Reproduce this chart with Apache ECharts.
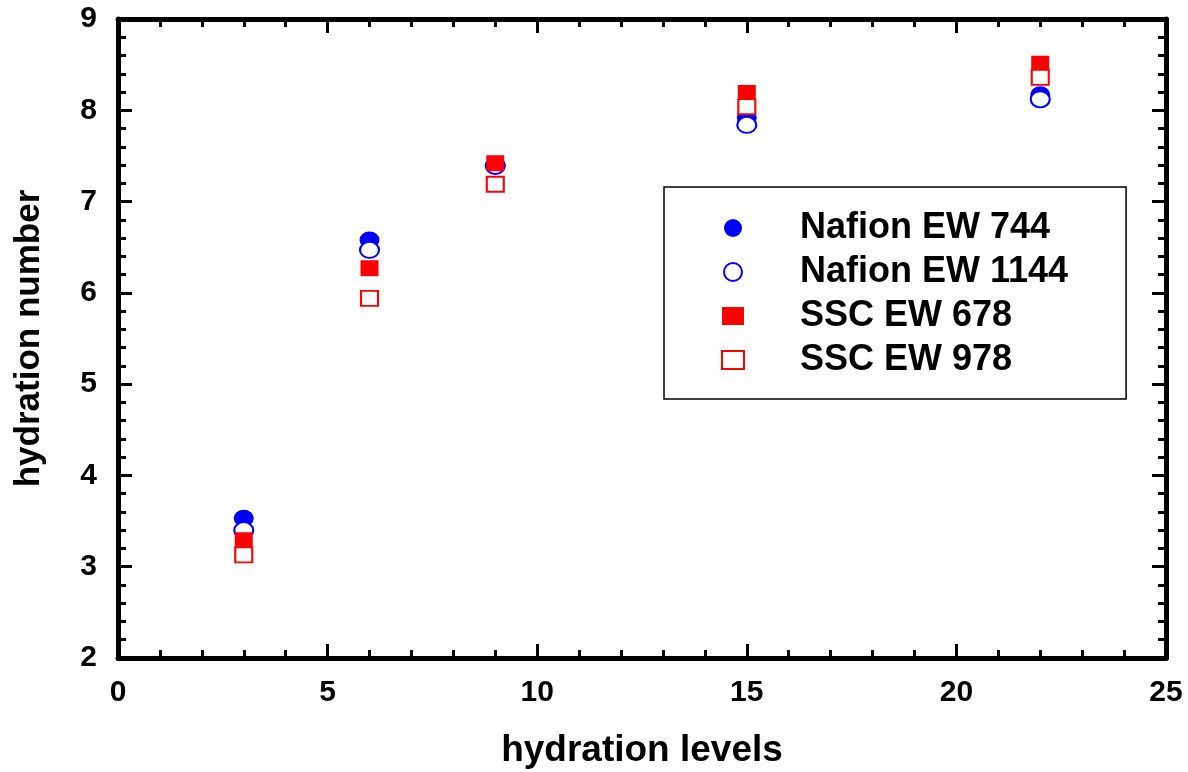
<!DOCTYPE html>
<html>
<head>
<meta charset="utf-8">
<script src="https://cdn.jsdelivr.net/npm/echarts@6/dist/echarts.min.js"></script>
<style>
html,body{margin:0;padding:0;background:#fff;}
#chart{width:1188px;height:772px;}
</style>
</head>
<body>
<div id="chart"></div>
<script>
// ---- data ----
const hydrationLevels = [3, 6, 9, 15, 22];
const nafion744  = [3.53, 6.58, 7.40, 7.92, 8.17];
const nafion1144 = [3.40, 6.47, 7.39, 7.84, 8.12];
const ssc678     = [3.29, 6.27, 7.42, 8.19, 8.51];
const ssc978     = [3.13, 5.94, 7.19, 8.04, 8.36];
const seriesNames = ['Nafion EW 744', 'Nafion EW 1144', 'SSC EW 678', 'SSC EW 978'];
const xTitle = 'hydration levels';
const yTitle = 'hydration number';

function pairs(ys) { return hydrationLevels.map((x, i) => [x, ys[i]]); }

const FONT = '"Liberation Sans", Arial, sans-serif';
const BLUE = '#0000ff', RED = '#ff0000';

const chart = echarts.init(document.getElementById('chart'), null, {renderer: 'canvas'});

function axisCommon(showLabel, margin) {
  return {
    axisLine: {show: true, onZero: false, lineStyle: {color: '#000', width: 5}},
    axisTick: {show: true, inside: true, length: 14, lineStyle: {color: '#000', width: 3}},
    minorTick: {show: true, splitNumber: 5, length: 8, lineStyle: {color: '#000', width: 3}},
    splitLine: {show: false},
    minorSplitLine: {show: false},
    axisLabel: {show: showLabel, color: '#000', fontFamily: FONT, fontWeight: 'bold', fontSize: 30, margin: margin}
  };
}

const option = {
  animation: false,
  backgroundColor: '#fff',
  grid: {left: 118, right: 22, top: 19, bottom: 114, containLabel: false, outerBoundsMode: 'none'},
  xAxis: [
    Object.assign({type: 'value', position: 'bottom', min: 0, max: 25, interval: 5,
      name: xTitle, nameLocation: 'middle', nameGap: 74,
      nameTextStyle: {color: '#000', fontFamily: FONT, fontWeight: 'bold', fontSize: 37}}, axisCommon(true, 20)),
    Object.assign({type: 'value', position: 'top', min: 0, max: 25, interval: 5}, axisCommon(false, 8))
  ],
  yAxis: [
    Object.assign({type: 'value', position: 'left', min: 2, max: 9, interval: 1,
      name: yTitle, nameLocation: 'middle', nameGap: 71,
      nameTextStyle: {color: '#000', fontFamily: FONT, fontWeight: 'bold', fontSize: 35}}, axisCommon(true, 21)),
    Object.assign({type: 'value', position: 'right', min: 2, max: 9, interval: 1}, axisCommon(false, 8))
  ],
  legend: {
    orient: 'vertical',
    left: 664, top: 187,
    padding: [23, 58, 21, 57],
    borderColor: '#000', borderWidth: 1.5,
    itemGap: 8,
    itemWidth: 22, itemHeight: 18,
    textStyle: {color: '#000', fontFamily: FONT, fontWeight: 'bold', fontSize: 36, lineHeight: 36, padding: [0, 0, 0, 51]},
    data: [
      {name: seriesNames[0], icon: 'circle', itemStyle: {color: BLUE, borderWidth: 0}},
      {name: seriesNames[1], icon: 'circle', itemStyle: {color: '#fff', borderColor: BLUE, borderWidth: 2}},
      {name: seriesNames[2], icon: 'rect', itemStyle: {color: RED, borderWidth: 0}},
      {name: seriesNames[3], icon: 'rect', itemStyle: {color: '#fff', borderColor: RED, borderWidth: 2}}
    ],
    selectedMode: false
  },
  series: [
    {name: seriesNames[0], type: 'scatter', data: pairs(nafion744), symbol: 'circle', symbolSize: [20, 17],
     itemStyle: {color: BLUE, opacity: 1}},
    {name: seriesNames[1], type: 'scatter', data: pairs(nafion1144), symbol: 'circle', symbolSize: [19, 16],
     itemStyle: {color: '#fff', borderColor: BLUE, borderWidth: 2, opacity: 1}},
    {name: seriesNames[2], type: 'scatter', data: pairs(ssc678), symbol: 'rect', symbolSize: [18, 16],
     itemStyle: {color: RED, opacity: 1}},
    {name: seriesNames[3], type: 'scatter', data: pairs(ssc978), symbol: 'rect', symbolSize: [17, 15],
     itemStyle: {color: '#fff', borderColor: RED, borderWidth: 2, opacity: 1}}
  ]
};
chart.setOption(option);
</script>
</body>
</html>
